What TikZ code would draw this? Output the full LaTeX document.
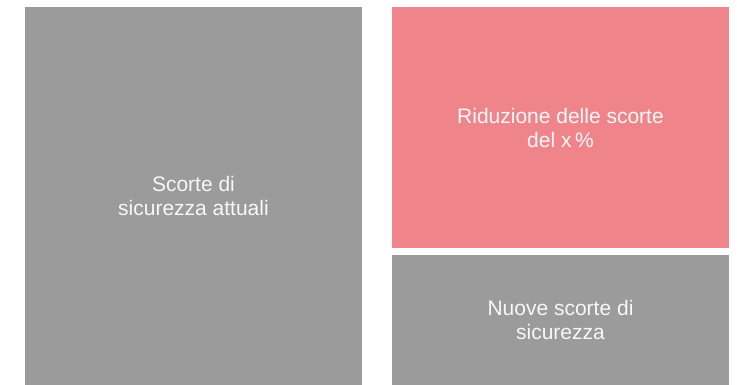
\documentclass[tikz,border=0pt]{standalone}
\usepackage{fontspec}
\setmainfont{Liberation Sans}
\usetikzlibrary{positioning}
\definecolor{stockgrey}{HTML}{9B9B9B}
\definecolor{stockpink}{HTML}{EF858A}
\definecolor{labelwhite}{HTML}{F7F7F7}
\tikzset{
  block/.style={anchor=north west,inner sep=0pt,outer sep=0pt,
    text=labelwhite,align=center,
    font=\fontsize{21}{24}\selectfont},
}
\begin{document}
\begin{tikzpicture}[x=1pt,y=-1pt]
\useasboundingbox[fill=white] (0,0) rectangle (737,385);
%current stock
\node[block,fill=stockgrey,minimum width=337pt,minimum height=378pt] (attuali) at (25,7)
  {Scorte di\\sicurezza attuali};
%reduction and new stock
\node[block,fill=stockpink,minimum width=337pt,minimum height=241pt] (riduzione) at (392,7)
  {Riduzione delle scorte\\del x\,\%};
\node[block,fill=stockgrey,minimum width=337pt,minimum height=130pt,below=7pt of riduzione.south west,anchor=north west] (nuove)
  {Nuove scorte di\\sicurezza};
\end{tikzpicture}
\end{document}
